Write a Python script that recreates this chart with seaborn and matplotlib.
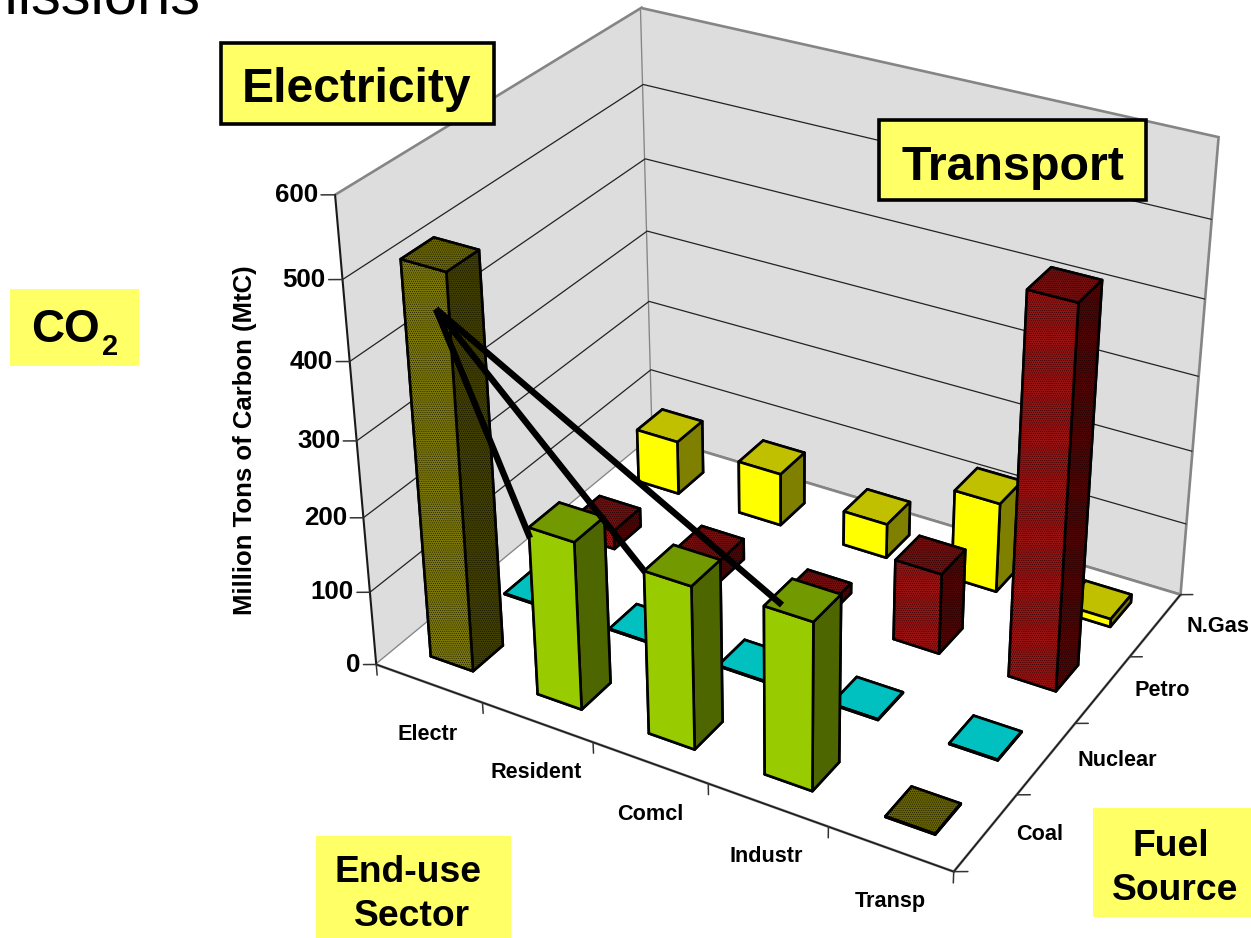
import matplotlib
matplotlib.use("Agg")
import matplotlib.pyplot as plt
from matplotlib.patches import Rectangle
import seaborn as sns

sectors = ["Electr", "Resident", "Comcl", "Industr", "Transp"]
fuels = ["Coal", "Nuclear", "Petro", "N.Gas"]
z_ticks = [0, 100, 200, 300, 400, 500, 600]

coal = [516, 224, 216, 221, 1]
nuclear = [1, 1, 1, 1, 1]
petro = [26, 29, 14, 110, 500]
natural_gas = [76, 74, 48, 124, 11]
emissions = [coal, nuclear, petro, natural_gas]

# Label anchors on the page, in pixels
sector_label_xy = [(428, 735), (536, 773), (650, 814), (766, 857), (890, 901)]
fuel_label_xy = [(1040, 834), (1117, 760), (1162, 691), (1218, 626)]

sns.set_theme(style="white")
plt.rcParams["font.family"] = ["Liberation Sans", "DejaVu Sans"]
plt.rcParams["grid.color"] = "#222222"
plt.rcParams["grid.linewidth"] = 0.9
plt.rcParams["grid.linestyle"] = "-"
plt.rcParams["hatch.linewidth"] = 0.3

# (front, top, side) shades per fuel, plus green for the coal burnt to make electricity
olive = sns.color_palette(["#7A7608", "#686400", "#424000"])
cyan = sns.color_palette(["#00C0C0", "#00C0C0", "#008080"])
red = sns.color_palette(["#981212", "#720E0E", "#4E0505"])
yellow = sns.color_palette(["#FFFF00", "#C0C000", "#808000"])
green = sns.color_palette(["#99CC00", "#739900", "#4D6600"])
fuel_shades = [olive, cyan, red, yellow]
fuel_hatch = ["........", None, "........", None]

W, H = 1251, 938
fig = plt.figure(figsize=(W / 100, H / 100), dpi=100, facecolor="white")
ax = fig.add_axes([0, 0, 1, 1], projection="3d", computed_zorder=False)
ax.set_xlim(0, 5)
ax.set_ylim(0, 4)
ax.set_zlim(0, 600)
ax.view_init(elev=30.01, azim=-60.06)
ax.set_proj_type("persp", focal_length=0.54)
ax.set_box_aspect((1.2507, 1, 1.0044))
ax.patch.set_alpha(0)


def place_axes(scale=5274.6, cx=785.91, cy=408.02):
    """Size and shift the square 3D axes so projected units land at the wanted scale."""
    side = 900.0
    left, bottom = 0.0, 0.0
    for _ in range(3):
        ax.set_position([left / W, bottom / H, side / W, side / H])
        ax.apply_aspect()
        o = ax.transData.transform((0, 0))
        e = ax.transData.transform((0.01, 0))
        s = (e[0] - o[0]) / 0.01
        side *= scale / s
        ax.set_position([left / W, bottom / H, side / W, side / H])
        ax.apply_aspect()
        o = ax.transData.transform((0, 0))
        left += cx - o[0]
        bottom += (H - cy) - o[1]
    ax.set_position([left / W, bottom / H, side / W, side / H])


place_axes()

# Walls and floor
for axis, colour in ((ax.xaxis, "#DDDDDD"), (ax.yaxis, "#DDDDDD"), (ax.zaxis, "#FFFFFF")):
    axis.set_pane_color(colour)
    axis.pane.set_edgecolor("#858585")
    axis.pane.set_linewidth(1.9)
    axis.line.set_color((0, 0, 0, 0))
    axis.set_ticks_position("none")
    axis.label.set_visible(False)
    axis.offsetText.set_visible(False)
ax.set_xticks([])
ax.set_yticks([])
ax.set_zticks(z_ticks[1:-1])
ax.set_zticklabels([])
ax.grid(True)

# Bars drawn back to front so nearer ones cover farther ones
order = 10
for j in reversed(range(len(fuels))):
    for i in range(len(sectors)):
        value = emissions[j][i]
        front, top, side = fuel_shades[j]
        hatch = fuel_hatch[j]
        if j == 0 and 1 <= i <= 3:
            front, top, side = green
            hatch = None
        faces = [side, top, front, side, side, side]
        bar = ax.bar3d(i + 0.3, j + 0.3, 0, 0.4, 0.4, value, color=faces, shade=False,
                       edgecolor="black", linewidth=1.9, hatch=hatch)
        bar.set_zorder(order)
        order += 1

# Outer axis lines, tick marks and value labels
axis_colour = "#1A1A1A"
tick_colour = "#333333"
ax.plot([0, 5], [0, 0], [0, 0], color=axis_colour, lw=1.1, zorder=5)
ax.plot([5, 5], [0, 4], [0, 0], color=axis_colour, lw=1.1, zorder=5)
ax.plot([0, 0], [0, 0], [0, 600], color=axis_colour, lw=1.5, zorder=5)
for i in range(len(sectors) + 1):
    ax.plot([i, i], [0, 0], [0, -15], color=tick_colour, lw=1.1, zorder=5)
for j in range(len(fuels) + 1):
    ax.plot([5, 5 + 0.085], [j, j + 0.05], [0, 0], color=tick_colour, lw=1.1, zorder=5)
for value in z_ticks:
    ax.plot([0, -0.085], [0, -0.05], [value, value], color=tick_colour, lw=1.1, zorder=5)
    ax.text(-0.105, -0.061, value, f"{value}", ha="right", va="center", fontsize=18.6,
            fontweight="bold", color="black", zorder=300)

# Annotation layer in pixel coordinates
over = fig.add_axes([0, 0, 1, 1], zorder=10)
over.set_xlim(0, W)
over.set_ylim(H, 0)
over.axis("off")
over.patch.set_alpha(0)

label_fill = "#FFFF66"


def label_box(x0, y0, x1, y1, border=False):
    over.add_patch(Rectangle((x0, y0), x1 - x0, y1 - y0, facecolor=label_fill,
                             edgecolor="black" if border else "none",
                             linewidth=2.6 if border else 0))


def bold(x, y, s, size):
    over.text(x, y, s, ha="center", va="center", fontsize=size, fontweight="bold", color="black")


for name, (x, y) in zip(sectors, sector_label_xy):
    bold(x, y, name, 15.6)
for name, (x, y) in zip(fuels, fuel_label_xy):
    bold(x, y, name, 15.6)

label_box(221, 43, 494, 124, border=True)
bold(357, 89, "Electricity", 34.6)
label_box(879, 120, 1146, 200, border=True)
bold(1013, 167, "Transport", 34.8)
label_box(10, 289, 139, 366)
bold(65, 330, "CO", 33)
bold(110, 347, "2", 21)
label_box(316, 836, 511, 938)
bold(408, 872, "End-use", 26.8)
bold(412, 916, "Sector", 26.8)
label_box(1093, 808, 1251, 917)
bold(1171, 846, "Fuel", 26.8)
bold(1175, 890, "Source", 26.8)
over.text(200, 14, "Emissions", ha="right", va="baseline", fontsize=43, color="black")
over.text(245, 440, "Million Tons of Carbon (MtC)", rotation=90, ha="center", va="center",
          fontsize=18.5, fontweight="bold", color="black")

# Links from the coal-fired generation bar to the sectors using the electricity
hub = (436, 309)
for end in [(530, 538), (645, 572), (782, 605)]:
    over.plot([hub[0], end[0]], [hub[1], end[1]], color="black", lw=4.6, solid_capstyle="butt")

fig.savefig("out.png", dpi=100)
